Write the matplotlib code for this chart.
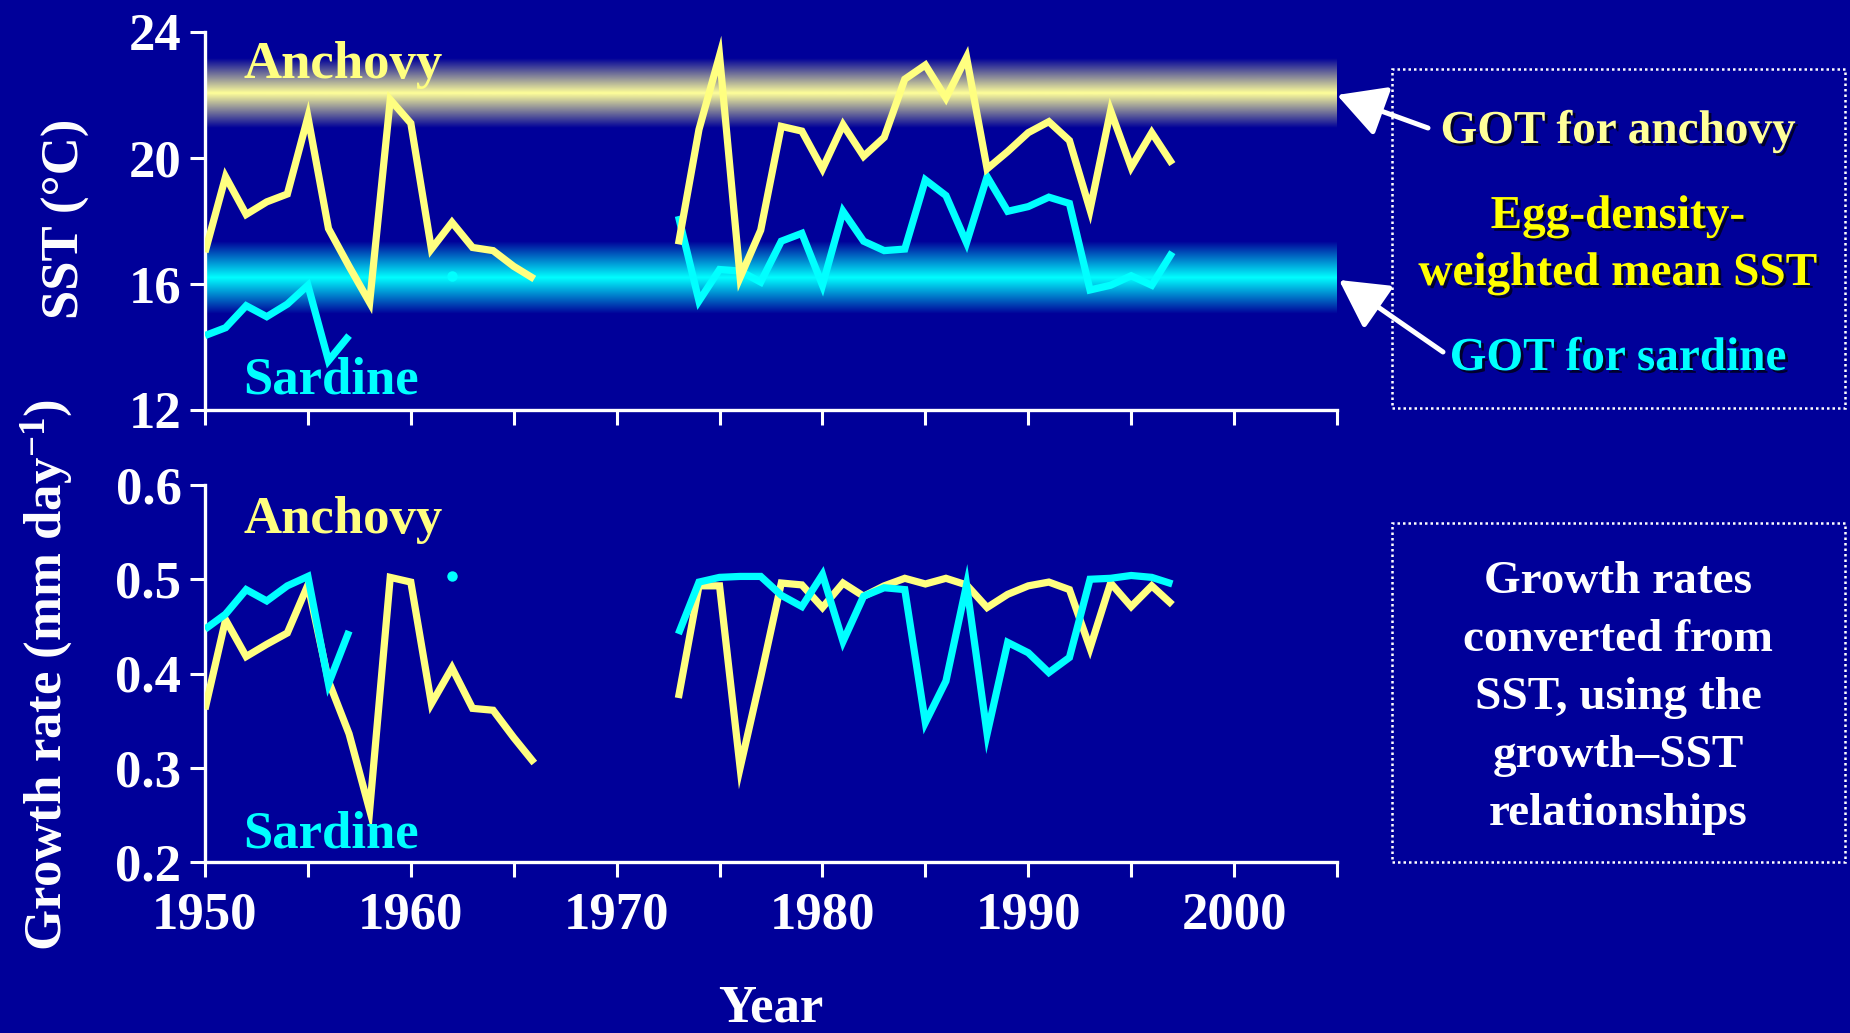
import numpy as np
import matplotlib
matplotlib.use('Agg')
import matplotlib.pyplot as plt
from matplotlib.patches import Rectangle, FancyArrowPatch, ArrowStyle
import matplotlib.patheffects as pe
from matplotlib.ticker import FuncFormatter, MultipleLocator

# ---------------- data ----------------
years = list(range(1950, 1998))
nan = np.nan

anchovy_sst = [17.0, 19.4, 18.2, 18.6, 18.85, 21.3, 17.75, 16.55, 15.4, 21.85,
               21.1, 17.1, 17.95, 17.15, 17.05, 16.55, 16.15,
               nan, nan, nan, nan, nan, nan,
               17.25, 20.9, 23.25, 16.2, 17.7, 21.0, 20.85, 19.65, 21.05, 20.05,
               20.65, 22.5, 22.95, 21.9, 23.2, 19.65, 20.2, 20.8, 21.15, 20.55,
               18.35, 21.5, 19.7, 20.8, 19.8]

sardine_sst = [14.35, 14.6, 15.3, 14.95, 15.35, 15.95, 13.55, 14.35,
               nan, nan, nan, nan,
               16.25,
               nan, nan, nan, nan, nan, nan, nan, nan, nan, nan,
               18.15, 15.45, 16.45, 16.4, 16.05, 17.35, 17.6, 15.95, 18.3, 17.35,
               17.05, 17.1, 19.3, 18.8, 17.3, 19.4, 18.3, 18.45, 18.75, 18.55,
               15.8, 15.95, 16.25, 15.95, 17.0]

anchovy_growth = [0.362, 0.457, 0.418, 0.431, 0.443, 0.494, 0.392, 0.336, 0.255, 0.502,
                  0.497, 0.368, 0.406, 0.363, 0.361, 0.332, 0.305,
                  nan, nan, nan, nan, nan, nan,
                  0.374, 0.493, 0.493, 0.300, 0.396, 0.496, 0.494, 0.470, 0.496, 0.482,
                  0.493, 0.501, 0.495, 0.501, 0.494, 0.470, 0.484, 0.493, 0.497, 0.489,
                  0.427, 0.496, 0.471, 0.493, 0.473]

sardine_growth = [0.447, 0.463, 0.489, 0.477, 0.493, 0.503, 0.389, 0.445,
                  nan, nan, nan, nan,
                  0.503,
                  nan, nan, nan, nan, nan, nan, nan, nan, nan, nan,
                  0.442, 0.497, 0.502, 0.503, 0.503, 0.483, 0.471, 0.505, 0.434, 0.482,
                  0.491, 0.489, 0.348, 0.392, 0.494, 0.336, 0.433, 0.422, 0.401, 0.417,
                  0.500, 0.501, 0.504, 0.502, 0.495]

got_anchovy = 22.05
got_sardine = 16.2
band_half = [1.1, 1.15]

sst_ticks = [12, 16, 20, 24]
growth_ticks = [0.2, 0.3, 0.4, 0.5, 0.6]
year_labels = [1950, 1960, 1970, 1980, 1990, 2000]

# ---------------- style ----------------
BG = '#000099'
AN = '#FFFF80'
SA = '#00FFFF'
W, H = 1850, 1033

plt.rcParams.update({
    'font.family': 'Liberation Serif',
    'font.weight': 'bold',
    'mathtext.fontset': 'custom',
    'mathtext.rm': 'Liberation Serif:bold',
    'mathtext.it': 'Liberation Serif:bold:italic',
    'mathtext.bf': 'Liberation Serif:bold',
})

fig = plt.figure(figsize=(W / 100, H / 100), dpi=100, facecolor=BG)


def rect(l, t, r, b):
    return [l / W, 1 - b / H, (r - l) / W, (b - t) / H]


ax1 = fig.add_axes(rect(205, 32, 1337, 409.5))
ax2 = fig.add_axes(rect(205, 485, 1337, 862))

XMIN, XMAX = 1950, 2005

for ax in (ax1, ax2):
    ax.set_facecolor(BG)
    for s in ('top', 'right'):
        ax.spines[s].set_visible(False)
    for s in ('left', 'bottom'):
        ax.spines[s].set_color('white')
        ax.spines[s].set_linewidth(2.4)
    ax.tick_params(axis='both', colors='white', width=2.2, length=11,
                   direction='out', labelsize=38, pad=6)
    ax.tick_params(axis='x', pad=10)
    ax.xaxis.set_major_locator(MultipleLocator(5))
    ax.xaxis.set_major_formatter(FuncFormatter(
        lambda v, p: f"{int(round(v))}" if int(round(v)) in year_labels else ""))


def band(ax, c, h, color):
    n = 301
    t = np.linspace(-1, 1, n)
    img = np.zeros((n, 1, 4))
    img[..., :3] = matplotlib.colors.to_rgb(color)
    img[:, 0, 3] = 1 - np.abs(t)
    ax.imshow(img, extent=[XMIN, XMAX, c - h, c + h], aspect='auto',
              interpolation='bilinear', origin='lower', zorder=1)


def series(ax, y, color, z):
    y = np.asarray(y, dtype=float)
    ax.plot(years, y, color=color, lw=5.2, solid_joinstyle='miter',
            solid_capstyle='butt', zorder=z)
    # isolated single points
    prev = np.r_[nan, y[:-1]]
    nxt = np.r_[y[1:], nan]
    iso = ~np.isnan(y) & np.isnan(prev) & np.isnan(nxt)
    ax.plot(np.array(years)[iso], y[iso], 'o', color=color, ms=7.5,
            mec='none', zorder=z)


# top panel
band(ax1, got_anchovy, band_half[0], '#FFFF99')
band(ax1, got_sardine, band_half[1], SA)
series(ax1, sardine_sst, SA, 3)
series(ax1, anchovy_sst, AN, 4)
ax1.set_xlim(XMIN, XMAX)
ax1.set_ylim(12, 24)
ax1.set_yticks(sst_ticks)
ax1.tick_params(axis='x', labelbottom=False)
ax1.text(0.034, 0.913, 'Anchovy', transform=ax1.transAxes, color=AN,
         fontsize=38, ha='left', va='center', zorder=6)
ax1.text(0.034, 0.078, 'Sardine', transform=ax1.transAxes, color=SA,
         fontsize=38, ha='left', va='center', zorder=6)

# bottom panel
series(ax2, anchovy_growth, AN, 3)
series(ax2, sardine_growth, SA, 4)
ax2.set_xlim(XMIN, XMAX)
ax2.set_ylim(0.2, 0.6)
ax2.set_yticks(growth_ticks)
ax2.yaxis.set_major_formatter(FuncFormatter(lambda v, p: f"{v:.1f}"))
ax2.text(0.034, 0.908, 'Anchovy', transform=ax2.transAxes, color=AN,
         fontsize=38, ha='left', va='center', zorder=6)
ax2.text(0.034, 0.073, 'Sardine', transform=ax2.transAxes, color=SA,
         fontsize=38, ha='left', va='center', zorder=6)

# axis labels
fig.text(66 / W, 1 - 219 / H, 'SST (°C)', rotation=90, ha='center',
         va='center', fontsize=38, color='white')
fig.text(47 / W, 1 - 675 / H, 'Growth rate (mm day$^{-1}$)', rotation=90,
         ha='center', va='center', fontsize=38, color='white')
fig.text(771 / W, 1 - 1021 / H, 'Year', ha='center', va='baseline',
         fontsize=38, color='white')

# dotted boxes
for (l, t, r, b) in [(1392, 69, 1845, 408), (1392, 523, 1845, 862)]:
    fig.patches.append(Rectangle((l / W, 1 - b / H), (r - l) / W, (b - t) / H,
                                 transform=fig.transFigure, fill=False,
                                 edgecolor='white', lw=1.8,
                                 linestyle=(0, (1, 1.2))))

shadow = [pe.withSimplePatchShadow(offset=(2, -2), shadow_rgbFace='black',
                                   alpha=0.7)]
cx = 1618 / W
fig.text(cx, 1 - 143 / H, 'GOT for anchovy', ha='center', va='baseline',
         fontsize=34, color='#FFFF99', path_effects=shadow)
fig.text(cx, 1 - 228 / H, 'Egg-density-', ha='center', va='baseline',
         fontsize=34, color='#FFFF00', path_effects=shadow)
fig.text(cx, 1 - 285 / H, 'weighted mean SST', ha='center', va='baseline',
         fontsize=34, color='#FFFF00', path_effects=shadow)
fig.text(cx, 1 - 370 / H, 'GOT for sardine', ha='center', va='baseline',
         fontsize=34, color=SA, path_effects=shadow)

box2_lines = ['Growth rates', 'converted from', 'SST, using the',
              'growth\u2013SST', 'relationships']
for i, s in enumerate(box2_lines):
    fig.text(cx, 1 - (593 + 58 * i) / H, s, ha='center', va='baseline',
             fontsize=34, color='white')

# arrows
style = ArrowStyle('-|>', head_length=0.59, head_width=0.32)
for (x0, y0, x1, y1) in [(1428, 128, 1337, 95), (1443, 352, 1339, 280)]:
    fig.patches.append(FancyArrowPatch((x0 / W, 1 - y0 / H), (x1 / W, 1 - y1 / H),
                                       transform=fig.transFigure,
                                       arrowstyle=style, mutation_scale=50,
                                       color='white', lw=3.6,
                                       shrinkA=0, shrinkB=0))

fig.savefig('out.png', dpi=100, facecolor=BG)
